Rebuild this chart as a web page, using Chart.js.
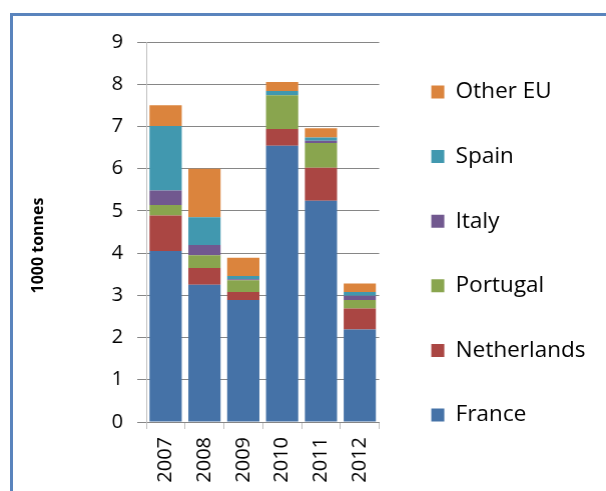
<!DOCTYPE html>
<html>
<head>
<meta charset="utf-8">
<script src="https://cdn.jsdelivr.net/npm/chart.js@4"></script>
<style>
	html, body { margin: 0; padding: 0; background: #fff; }
	body { width: 606px; height: 491px; overflow: hidden; position: relative; }
	#frame {
		position: absolute; left: 10px; top: 13px;
		border-left: 3px solid #5a84bd; border-top: 3px solid #5a84bd;
		width: 600px; height: 480px;
	}
	#box { position: absolute; left: 0; top: 0; width: 581.5px; height: 475px; }
</style>
</head>
<body>
<div id="frame"><div id="box"><canvas id="chartExports"></canvas></div></div>
<script>
	var years = ['2007', '2008', '2009', '2010', '2011', '2012'];
	var france = [4.05, 3.25, 2.89, 6.54, 5.24, 2.19];
	var netherlands = [0.84, 0.40, 0.19, 0.40, 0.78, 0.50];
	var portugal = [0.25, 0.30, 0.28, 0.80, 0.59, 0.20];
	var italy = [0.34, 0.24, 0.02, 0.00, 0.05, 0.10];
	var spain = [1.53, 0.66, 0.08, 0.10, 0.08, 0.09];
	var otherEU = [0.49, 1.15, 0.43, 0.21, 0.22, 0.20];
	var yTitle = '1000 tonnes';

	var fontName = '"Open Sans", sans-serif';

	// axis title drawn by hand so it sits where Excel put it
	var yTitlePlugin = {
		id: 'yTitle',
		afterDraw: function(chart) {
			var ctx = chart.ctx;
			ctx.save();
			ctx.translate(25.5, 229.5);
			ctx.rotate(-Math.PI / 2);
			ctx.font = 'bold 16px ' + fontName;
			ctx.fillStyle = '#000';
			ctx.textAlign = 'center';
			ctx.textBaseline = 'middle';
			ctx.fillText(yTitle, 0, 0);
			ctx.restore();
		}
	};

	function series(label, data, color) {
		return { label: label, data: data, backgroundColor: color, borderWidth: 0 };
	}

	var myChart = new Chart(document.getElementById('chartExports'), {
		type: 'bar',
		data: {
			labels: years,
			datasets: [
				series('France', france, '#4572a7'),
				series('Netherlands', netherlands, '#aa4643'),
				series('Portugal', portugal, '#89a54e'),
				series('Italy', italy, '#71588f'),
				series('Spain', spain, '#4198af'),
				series('Other EU', otherEU, '#db843d')
			]
		},
		options: {
			responsive: true,
			maintainAspectRatio: false,
			animation: false,
			layout: { padding: 0 },
			datasets: { bar: { categoryPercentage: 1, barPercentage: 0.83 } },
			scales: {
				x: {
					stacked: true,
					grid: { display: true, drawOnChartArea: false, drawTicks: true, tickLength: 7, color: '#bfbfbf', offset: true },
					border: { display: true, color: '#868686' },
					ticks: { color: '#000', font: { family: fontName, size: 20 }, minRotation: 90, maxRotation: 90, padding: 8, autoSkip: false },
					afterFit: function(scale) { scale.height = 69; }
				},
				y: {
					stacked: true,
					min: 0,
					max: 9,
					ticks: { stepSize: 1, color: '#000', font: { family: fontName, size: 20 }, padding: 14 },
					grid: { color: '#868686', tickLength: 9 },
					border: { display: true, color: '#bfbfbf' },
					afterFit: function(scale) { scale.width = 133; }
				},
				// empty spacer between plot and legend
				gap: {
					type: 'linear',
					position: 'right',
					display: true,
					grid: { display: false },
					border: { display: false },
					ticks: { display: false },
					afterFit: function(scale) { scale.width = 9.9; }
				}
			},
			plugins: {
				title: { display: true, text: '', fullSize: false, font: { size: 10, lineHeight: 1 }, padding: { top: 13.5, bottom: 0 } },
				legend: {
					position: 'right',
					reverse: true,
					maxWidth: 300,
					labels: {
						boxWidth: 13,
						boxHeight: 13,
						padding: 42.1,
						color: '#000',
						font: { family: fontName, size: 22.5, lineHeight: 1 }
					}
				},
				tooltip: { enabled: false }
			}
		},
		plugins: [yTitlePlugin]
	});
</script>
</body>
</html>
